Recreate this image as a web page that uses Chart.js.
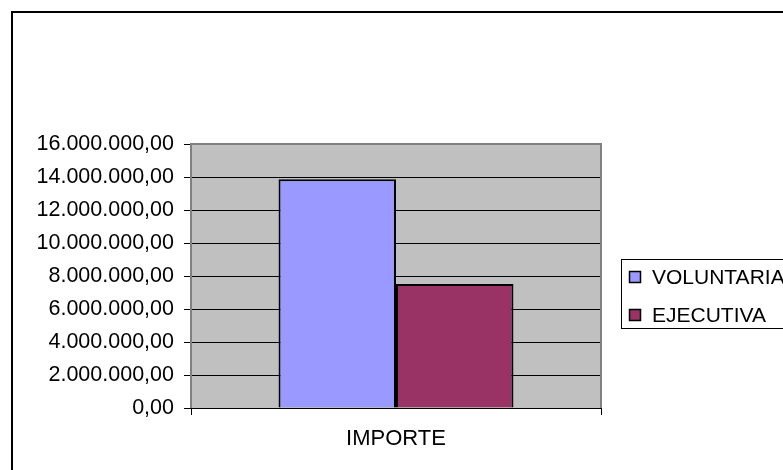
<!DOCTYPE html>
<html lang="es">
<head>
    <meta charset="UTF-8">
    <title>IMPORTE</title>
    <script src="https://cdn.jsdelivr.net/npm/chart.js"></script>
    <style>
        html, body {
            margin: 0;
            padding: 0;
            background: #ffffff;
        }

        .chart-box {
            position: relative;
            width: 783px;
            height: 470px;
        }
    </style>
</head>
<body>
    <div class="chart-box">
        <canvas id="importeChart"></canvas>
    </div>

    <script>
        // Data
        const categories = ['IMPORTE'];
        const seriesNames = ['VOLUNTARIA', 'EJECUTIVA'];
        const voluntaria = [13870000];
        const ejecutiva = [7520000];
        const yMax = 16000000;
        const yStep = 2000000;

        const FONT = "'Liberation Sans', Arial, sans-serif";

        // 16000000 -> "16.000.000,00"
        function formatEs(v) {
            const parts = Math.round(v).toString().replace(/\B(?=(\d{3})+(?!\d))/g, '.');
            return parts + ',00';
        }

        // Page frame, plot background and plot border
        const framePlugin = {
            id: 'framePlugin',
            beforeDraw(chart) {
                const { ctx, chartArea } = chart;
                ctx.save();
                ctx.fillStyle = '#ffffff';
                ctx.fillRect(0, 0, chart.width, chart.height);
                ctx.fillStyle = '#c0c0c0';
                ctx.fillRect(chartArea.left, chartArea.top,
                    chartArea.right - chartArea.left, chartArea.bottom - chartArea.top);

                // outer frame (only top and left edges are in view)
                ctx.strokeStyle = '#000000';
                ctx.lineWidth = 2;
                ctx.beginPath();
                ctx.moveTo(12, chart.height + 5);
                ctx.lineTo(12, 12);
                ctx.lineTo(chart.width + 5, 12);
                ctx.stroke();
                ctx.restore();
            },
            afterDatasetsDraw(chart) {
                const { ctx, chartArea } = chart;
                ctx.save();
                ctx.strokeStyle = '#808080';
                ctx.lineWidth = 2;
                ctx.beginPath();
                ctx.moveTo(chartArea.left, chartArea.bottom);
                ctx.lineTo(chartArea.left, chartArea.top);
                ctx.lineTo(chartArea.right, chartArea.top);
                ctx.lineTo(chartArea.right, chartArea.bottom);
                ctx.stroke();
                ctx.strokeStyle = '#000000';
                ctx.lineWidth = 1;
                ctx.beginPath();
                ctx.moveTo(chartArea.left, chartArea.bottom + 0.5);
                ctx.lineTo(chartArea.right, chartArea.bottom + 0.5);
                ctx.stroke();
                ctx.restore();
            }
        };

        // Excel-style boxed legend on the right
        const boxLegend = {
            id: 'boxLegend',
            afterDraw(chart) {
                const { ctx } = chart;
                const x = 621, y = 259, w = 180, h = 69;
                ctx.save();
                ctx.fillStyle = '#ffffff';
                ctx.fillRect(x, y, w, h);
                ctx.strokeStyle = '#000000';
                ctx.lineWidth = 1;
                ctx.strokeRect(x + 0.5, y + 0.5, w, h);
                ctx.font = '21px ' + FONT;
                ctx.textBaseline = 'middle';
                chart.data.datasets.forEach((ds, i) => {
                    const cy = 277 + i * 38;
                    ctx.fillStyle = ds.backgroundColor;
                    ctx.fillRect(629, cy - 6, 12, 12);
                    ctx.strokeStyle = '#000000';
                    ctx.lineWidth = 1.5;
                    ctx.strokeRect(629.5, cy - 5.5, 11, 11);
                    ctx.fillStyle = '#000000';
                    ctx.fillText(ds.label, 652, cy + 1);
                });
                ctx.restore();
            }
        };

        const ctx = document.getElementById('importeChart').getContext('2d');
        new Chart(ctx, {
            type: 'bar',
            data: {
                labels: categories,
                datasets: [
                    {
                        label: seriesNames[0],
                        data: voluntaria,
                        backgroundColor: '#9999ff',
                        borderColor: '#000000',
                        borderWidth: 2
                    },
                    {
                        label: seriesNames[1],
                        data: ejecutiva,
                        backgroundColor: '#993366',
                        borderColor: '#000000',
                        borderWidth: 2
                    }
                ]
            },
            options: {
                responsive: true,
                maintainAspectRatio: false,
                animation: false,
                layout: {
                    padding: { top: 144, right: 182, bottom: 0, left: 0 }
                },
                plugins: {
                    legend: { display: false },
                    tooltip: { enabled: false }
                },
                datasets: {
                    bar: {
                        categoryPercentage: 0.573,
                        barPercentage: 1.0
                    }
                },
                scales: {
                    x: {
                        afterFit(scale) { scale.height = 62; },
                        grid: {
                            display: true,
                            drawOnChartArea: false,
                            drawTicks: true,
                            tickLength: 7,
                            color: '#000000',
                            offset: true
                        },
                        border: { display: false },
                        ticks: {
                            color: '#000000',
                            font: { family: FONT, size: 22 },
                            padding: 11
                        }
                    },
                    y: {
                        min: 0,
                        max: yMax,
                        afterFit(scale) { scale.width = 191; },
                        grid: {
                            color: '#000000',
                            lineWidth: 1,
                            drawTicks: true,
                            tickLength: 7
                        },
                        border: { display: false },
                        ticks: {
                            stepSize: yStep,
                            color: '#000000',
                            font: { family: FONT, size: 21.5 },
                            padding: 10,
                            callback: (v) => formatEs(v)
                        }
                    }
                }
            },
            plugins: [framePlugin, boxLegend]
        });
    </script>
</body>
</html>
